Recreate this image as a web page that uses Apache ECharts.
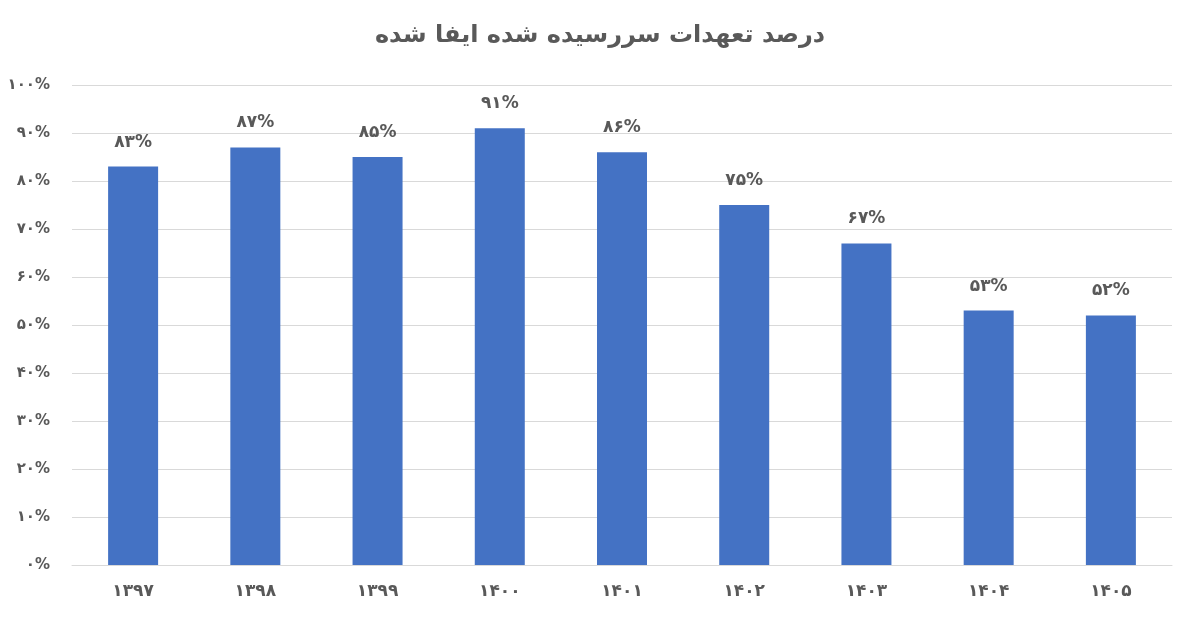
<!DOCTYPE html>
<html><head><meta charset="utf-8">
<script src="https://cdn.jsdelivr.net/npm/echarts@6/dist/echarts.min.js"></script>
<style>html,body{margin:0;padding:0;background:#fff}#c{width:1200px;height:620px}</style>
</head><body><div id="c"></div>
<script>
const categories = ['1397','1398','1399','1400','1401','1402','1403','1404','1405'];
const values = [83, 87, 85, 91, 86, 75, 67, 53, 52];
const yTicks = [0,10,20,30,40,50,60,70,80,90,100];
const fa = s => String(s).replace(/\d/g, d => '۰۱۲۳۴۵۶۷۸۹'[d]);
const font = '"DejaVu Sans", "Noto Sans", sans-serif';
const chart = echarts.init(document.getElementById('c'));
chart.setOption({
  title: {text: 'درصد تعهدات سررسیده شده ایفا شده', left: 'center', top: 19,
    textStyle: {fontFamily: font, fontSize: 24, fontWeight: 'bold', color: '#595959'}},
  grid: {left: 72, right: 28, top: 85, bottom: 55},
  xAxis: {type: 'category', data: categories,
    axisLine: {lineStyle: {color: '#d9d9d9'}}, axisTick: {show: false},
    axisLabel: {formatter: v => fa(v), fontFamily: font, fontSize: 17, fontWeight: 'bold', color: '#595959', margin: 18}},
  yAxis: {type: 'value', min: 0, max: 100, interval: 10,
    axisLabel: {formatter: v => fa(v) + '%', fontFamily: font, fontSize: 15, fontWeight: 'bold', color: '#595959', margin: 22},
    splitLine: {lineStyle: {color: '#d9d9d9'}}},
  series: [{type: 'bar', data: values, barWidth: 50, itemStyle: {color: '#4472c4'},
    label: {show: true, position: 'top', distance: 16, formatter: p => fa(p.value) + '%',
      fontFamily: font, fontSize: 17, fontWeight: 'bold', color: '#595959'}}]
});
</script></body></html>
